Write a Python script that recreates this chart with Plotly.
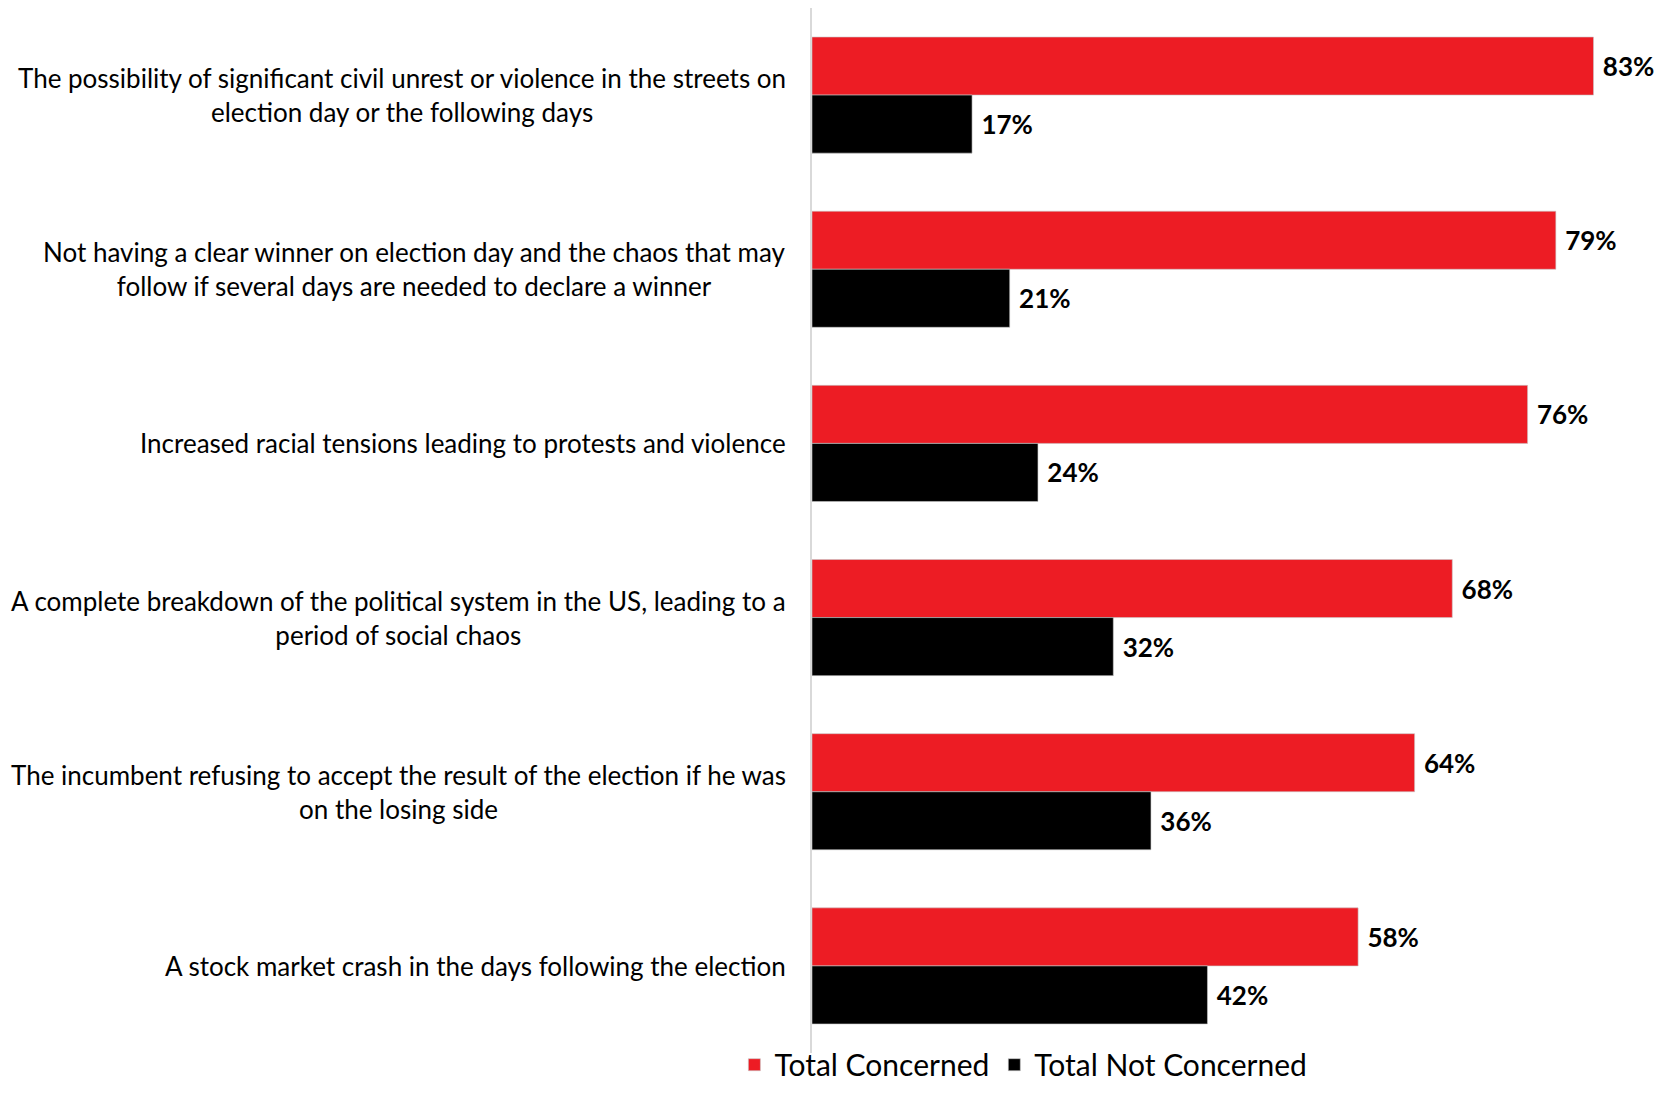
import plotly.graph_objects as go

categories = [
    "The possibility of significant civil unrest or violence in the streets on<br>election day or the following days",
    "Not having a clear winner on election day and the chaos that may<br>follow if several days are needed to declare a winner",
    "Increased racial tensions leading to protests and violence",
    "A complete breakdown of the political system in the US, leading to a<br>period of social chaos",
    "The incumbent refusing to accept the result of the election if he was<br>on the losing side",
    "A stock market crash in the days following the election",
]
concerned = [83, 79, 76, 68, 64, 58]
not_concerned = [17, 21, 24, 32, 36, 42]
series_names = ["Total Concerned", "Total Not Concerned"]

RED = "#ED1C24"
BLACK = "#000000"
FONT = "Lato"

fig = go.Figure()
for name, vals, col in [(series_names[0], concerned, RED), (series_names[1], not_concerned, BLACK)]:
    fig.add_trace(go.Bar(
        y=categories, x=vals, name=name, orientation="h",
        marker=dict(color=col, line=dict(color="#c8c8c8", width=0.6)),
        texttemplate="\u00a0%{x}%", textposition="outside",
        textfont=dict(family=FONT, size=26, color="#000000", weight="bold"),
        cliponaxis=False, constraintext="none",
    ))

for cat in categories:
    fig.add_annotation(
        x=0, xref="paper", y=cat, yref="y", text=cat, showarrow=False,
        xanchor="right", xshift=-24, align="center",
        font=dict(family=FONT, size=26, color="#000000"),
    )

fig.update_layout(
    width=1647, height=1077,
    margin=dict(l=804, r=5, t=0, b=32, autoexpand=False),
    plot_bgcolor="white", paper_bgcolor="white",
    barmode="group", bargap=1/3, bargroupgap=0,
    font=dict(family=FONT, color="#000000"),
    xaxis=dict(range=[0, 89], showgrid=False, zeroline=False, showticklabels=False,
               showline=False, fixedrange=True),
    yaxis=dict(autorange="reversed", showticklabels=False, showgrid=False, zeroline=False,
               showline=True, linecolor="#d9d9d9", linewidth=1.5, ticks=""),
    legend=dict(orientation="h", xref="container", yref="container", x=0.6165, y=0.043,
                xanchor="center", yanchor="top", bgcolor="rgba(0,0,0,0)",
                font=dict(family=FONT, size=30, color="#000000"),
                itemwidth=30, traceorder="normal"),
    showlegend=True,
)

fig.write_html("out.html")
